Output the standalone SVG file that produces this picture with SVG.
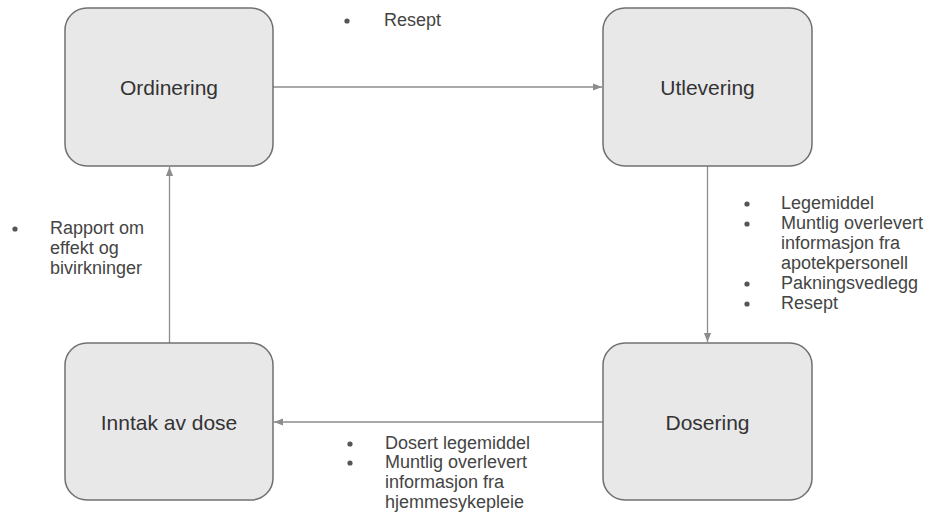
<svg xmlns="http://www.w3.org/2000/svg" width="929" height="520" viewBox="0 0 929 520">
  <style>
    .box { fill: #e8e8e9; stroke: #707070; stroke-width: 1.5; }
    .title { font-family: "Liberation Sans", Arial, sans-serif; font-size: 21px; fill: #333; text-anchor: middle; }
    .lbl { font-family: "Liberation Sans", Arial, sans-serif; font-size: 18px; fill: #444; }
    .dot { fill: #555; }
    .edge { stroke: #8c8c8c; stroke-width: 1.3; fill: none; marker-end: url(#arr); }
  </style>
  <defs>
    <marker id="arr" viewBox="0 0 10 10" refX="10" refY="5" markerWidth="9" markerHeight="9" markerUnits="userSpaceOnUse" orient="auto">
      <path d="M0,1 L10,5 L0,9 z" fill="#8c8c8c"/>
    </marker>
  </defs>
  <rect width="929" height="520" fill="#ffffff"/>

  <g id="connectors">
    <line class="edge" x1="273" y1="87" x2="602" y2="87"/>
    <line class="edge" x1="707.5" y1="166" x2="707.5" y2="342"/>
    <line class="edge" x1="603" y1="422" x2="274" y2="422"/>
    <line class="edge" x1="169.5" y1="343" x2="169.5" y2="167"/>
  </g>

  <g id="ordinering">
    <rect class="box" x="65" y="8" width="208" height="158" rx="22"/>
    <text class="title" x="169" y="95">Ordinering</text>
  </g>
  <g id="utlevering">
    <rect class="box" x="603" y="8" width="209" height="158" rx="22"/>
    <text class="title" x="707.5" y="95">Utlevering</text>
  </g>
  <g id="dosering">
    <rect class="box" x="603" y="343" width="209" height="157" rx="22"/>
    <text class="title" x="707.5" y="430">Dosering</text>
  </g>
  <g id="inntak">
    <rect class="box" x="65" y="343" width="208" height="157" rx="22"/>
    <text class="title" x="169" y="430">Inntak av dose</text>
  </g>

  <g id="label-top">
    <circle class="dot" cx="347" cy="21" r="2.6"/>
    <text class="lbl" x="384" y="26">Resept</text>
  </g>
  <g id="label-right">
    <circle class="dot" cx="747" cy="204" r="2.6"/>
    <text class="lbl" x="781" y="209">Legemiddel</text>
    <circle class="dot" cx="747" cy="224" r="2.6"/>
    <text class="lbl" x="781" y="229">Muntlig overlevert</text>
    <text class="lbl" x="781" y="249">informasjon fra</text>
    <text class="lbl" x="781" y="269">apotekpersonell</text>
    <circle class="dot" cx="747" cy="284" r="2.6"/>
    <text class="lbl" x="781" y="289">Pakningsvedlegg</text>
    <circle class="dot" cx="747" cy="304" r="2.6"/>
    <text class="lbl" x="781" y="309">Resept</text>
  </g>
  <g id="label-left">
    <circle class="dot" cx="15" cy="229" r="2.6"/>
    <text class="lbl" x="50" y="234">Rapport om</text>
    <text class="lbl" x="50" y="254">effekt og</text>
    <text class="lbl" x="50" y="274">bivirkninger</text>
  </g>
  <g id="label-bottom">
    <circle class="dot" cx="350" cy="444" r="2.6"/>
    <text class="lbl" x="385" y="449">Dosert legemiddel</text>
    <circle class="dot" cx="350" cy="463" r="2.6"/>
    <text class="lbl" x="385" y="468">Muntlig overlevert</text>
    <text class="lbl" x="385" y="488">informasjon fra</text>
    <text class="lbl" x="385" y="508">hjemmesykepleie</text>
  </g>
</svg>
